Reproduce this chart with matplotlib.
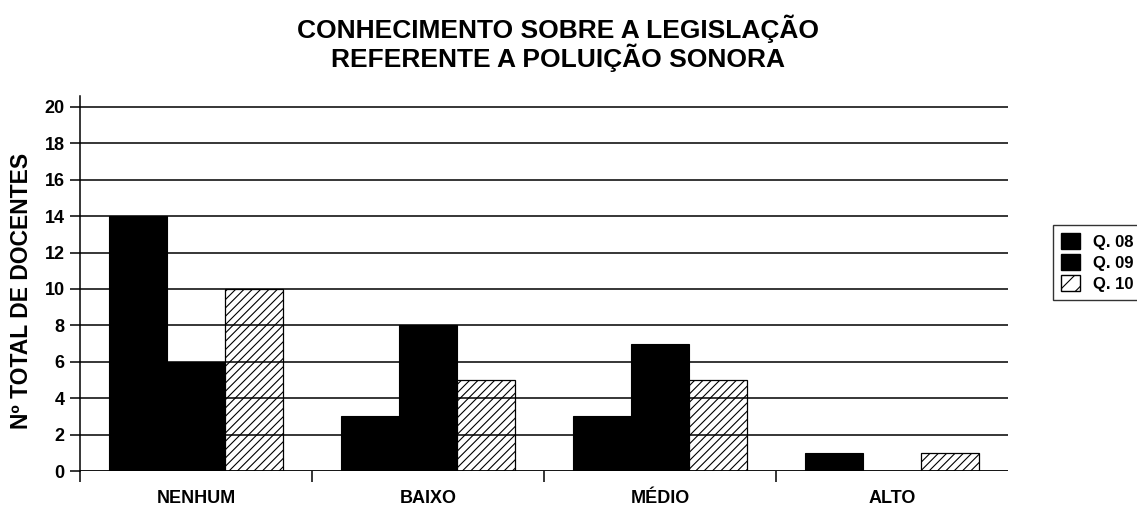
import matplotlib.pyplot as plt
import numpy as np
from matplotlib.patches import Patch

plt.rcParams['font.family'] = ['Liberation Sans', 'DejaVu Sans']

categorias = ['NENHUM', 'BAIXO', 'MÉDIO', 'ALTO']
q08 = [14, 3, 3, 1]
q09 = [6, 8, 7, 0]
q10 = [10, 5, 5, 1]
series = ['Q. 08', 'Q. 09', 'Q. 10']

fig = plt.figure(figsize=(11.37, 5.09), dpi=100)
ax = fig.add_axes([80 / 1137, 1 - 471 / 509, (1008 - 80) / 1137, (471 - 96) / 509])

x = np.arange(len(categorias))
w = 0.25
ax.bar(x - w, q08, w, color='black', edgecolor='black', linewidth=0.8, zorder=3)
ax.bar(x, q09, w, color='black', edgecolor='black', linewidth=0.8, zorder=3)
plt.rcParams['hatch.linewidth'] = 0.8
ax.bar(x + w, q10, w, color='white', edgecolor='black', hatch='////', linewidth=0.9, zorder=3)

ax.set_xlim(-0.5, 3.5)
ax.set_ylim(0, 20.6)
ax.set_yticks(range(0, 21, 2))
for yv in range(2, 21, 2):
    ax.axhline(yv, color='black', linewidth=1.1, zorder=4)
ax.axhline(0, color='black', linewidth=1.3, zorder=5)

ax.spines['top'].set_visible(False)
ax.spines['right'].set_visible(False)
ax.spines['bottom'].set_visible(False)
ax.spines['left'].set_linewidth(1.1)

ax.set_xticks(x)
ax.set_xticklabels(categorias, fontsize=13, fontweight='bold')
ax.tick_params(axis='x', length=0, pad=14)
ax.set_xticks([-0.5, 0.5, 1.5, 2.5], minor=True)
ax.tick_params(axis='x', which='minor', length=8, width=1.1, direction='out')
ax.tick_params(axis='y', length=7, width=1.1, direction='out', labelsize=13, pad=4)
for lb in ax.get_yticklabels():
    lb.set_fontweight('bold')

ax.set_ylabel('Nº TOTAL DE DOCENTES', fontsize=16.5, fontweight='bold')
ax.yaxis.set_label_coords(-0.051, 0.48)

fig.text(0.491, 1 - 15 / 509, 'CONHECIMENTO SOBRE A LEGISLAÇÃO\nREFERENTE A POLUIÇÃO SONORA',
         ha='center', va='top', fontsize=19, fontweight='bold', linespacing=1.0)

handles = [Patch(facecolor='black', edgecolor='black'),
           Patch(facecolor='black', edgecolor='black'),
           Patch(facecolor='white', edgecolor='black', hatch='//')]
leg = fig.legend(handles, series, loc='upper left', bbox_to_anchor=(1053 / 1137, 1 - 225 / 509),
                 frameon=True, fancybox=False, edgecolor='black', fontsize=12,
                 handlelength=1.1, handleheight=1.1, handletextpad=0.8,
                 labelspacing=0.25, borderpad=0.5, borderaxespad=0)
leg.get_frame().set_linewidth(1.0)
for t in leg.get_texts():
    t.set_fontweight('bold')

fig.savefig('out.png', dpi=100)
